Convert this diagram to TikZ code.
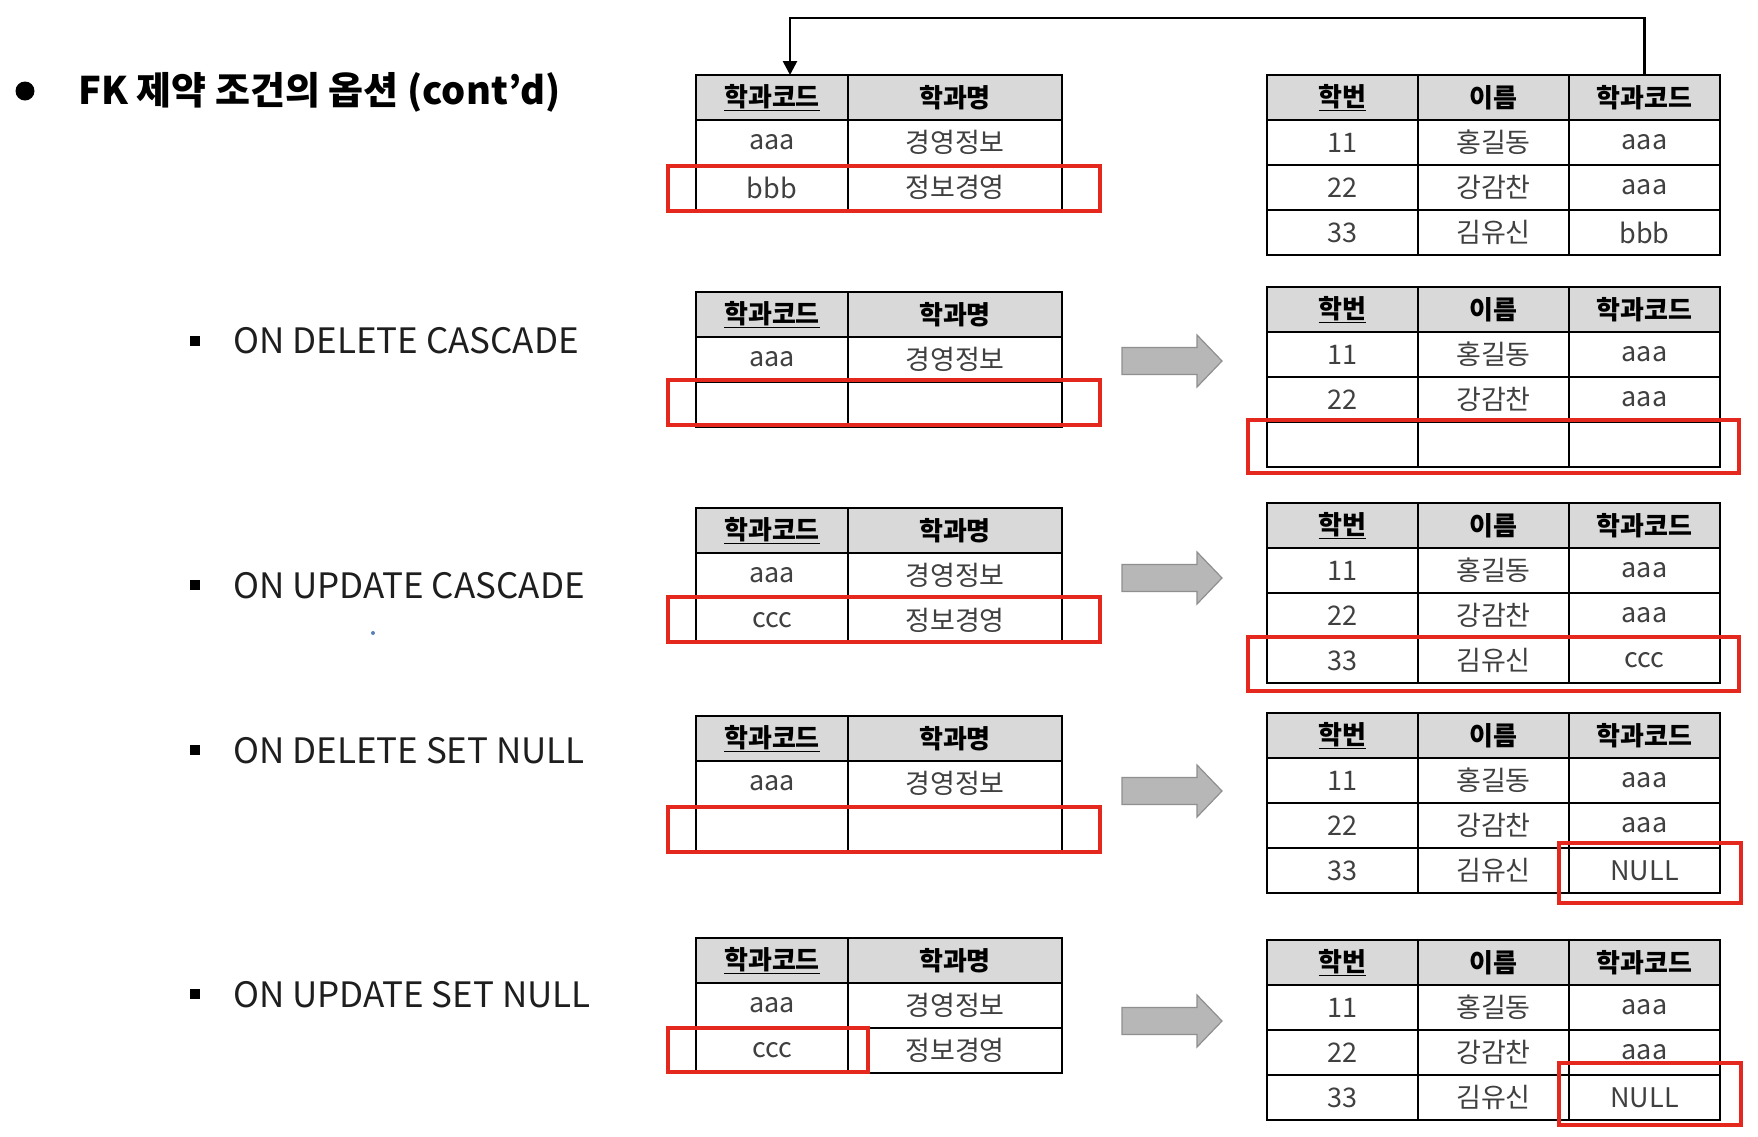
\documentclass[tikz,border=0pt]{standalone}
\usepackage{fontspec}
\setmainfont{Noto Sans CJK KR}
\usetikzlibrary{arrows.meta,calc}

\definecolor{hdrgray}{HTML}{D9D9D9}
\definecolor{boxred}{HTML}{E4281E}
\definecolor{bodytxt}{HTML}{404040}
\definecolor{itemtxt}{HTML}{1E1E1E}
\definecolor{arrfill}{HTML}{B7B7B7}
\definecolor{arredge}{HTML}{8F8F8F}
\definecolor{dotblue}{HTML}{5A7FB8}

\tikzset{
  cell/.style={draw=black, line width=1.8pt, inner sep=0pt, outer sep=0pt,
    anchor=north west, minimum height=45pt, text=bodytxt,
    font=\fontsize{27}{27}\selectfont},
  hcell/.style={cell, fill=hdrgray, text=black,
    font=\bfseries\fontsize{26}{26}\selectfont},
  hl/.style={draw=boxred, line width=3.2pt},
  blockarr/.style={fill=arrfill, draw=arredge, line width=1.2pt, line join=miter},
  fkline/.style={draw=black, line width=2.6pt,
    -{Triangle[width=14pt,length=14pt]}},
  optitem/.style={anchor=base west, text=itemtxt, inner sep=0pt,
    font=\fontsize{35}{35}\selectfont},
  sqbullet/.style={fill=black, minimum size=10pt, inner sep=0pt},
}

% department table: prefix, top y, second data row
\newcommand{\depttable}[4]{%
  \node[hcell, minimum width=152pt] (#1h1) at (696,#2) {\underline{학과코드}};
  \node[hcell, minimum width=214pt] (#1h2) at (#1h1.north east) {학과명};
  \node[cell, minimum width=152pt] (#1a1) at (#1h1.south west) {aaa};
  \node[cell, minimum width=214pt] (#1a2) at (#1a1.north east) {경영정보};
  \node[cell, minimum width=152pt] (#1b1) at (#1a1.south west) {#3};
  \node[cell, minimum width=214pt] (#1b2) at (#1b1.north east) {#4};
}

% student table: prefix, top y, third data row
\newcommand{\studtable}[5]{%
  \node[hcell, minimum width=151pt] (#1h1) at (1267,#2) {\underline{학번}};
  \node[hcell, minimum width=151pt] (#1h2) at (#1h1.north east) {이름};
  \node[hcell, minimum width=151pt] (#1h3) at (#1h2.north east) {학과코드};
  \node[cell, minimum width=151pt] (#1a1) at (#1h1.south west) {11};
  \node[cell, minimum width=151pt] (#1a2) at (#1a1.north east) {홍길동};
  \node[cell, minimum width=151pt] (#1a3) at (#1a2.north east) {aaa};
  \node[cell, minimum width=151pt] (#1b1) at (#1a1.south west) {22};
  \node[cell, minimum width=151pt] (#1b2) at (#1b1.north east) {강감찬};
  \node[cell, minimum width=151pt] (#1b3) at (#1b2.north east) {aaa};
  \node[cell, minimum width=151pt] (#1c1) at (#1b1.south west) {#3};
  \node[cell, minimum width=151pt] (#1c2) at (#1c1.north east) {#4};
  \node[cell, minimum width=151pt] (#1c3) at (#1c2.north east) {#5};
}

% grey block arrow centred on height #1
\newcommand{\blockarrow}[1]{%
  \draw[blockarr] (1122,#1-13.5) -- (1197,#1-13.5) -- (1197,#1-26)
    -- (1222,#1) -- (1197,#1+26) -- (1197,#1+13.5) -- (1122,#1+13.5) -- cycle;
}

\begin{document}
\begin{tikzpicture}[x=1pt, y=-1pt]
  \fill[white] (0,0) rectangle (1758,1136);
  \useasboundingbox (0,0) rectangle (1758,1136);

  % heading
  \fill[black] (25,91) circle (9.5);
  \node[anchor=base west, inner sep=0pt, font=\bfseries\fontsize{38}{38}\selectfont]
    (title) at (78,104) {FK 제약 조건의 옵션 (cont'd)};

  % option list
  \node[sqbullet] (b1) at (195,341) {};
  \node[optitem] (o1) at (233,353) {ON DELETE CASCADE};
  \node[sqbullet] (b2) at (195,585) {};
  \node[optitem] (o2) at (233,598) {ON UPDATE CASCADE};
  \node[sqbullet] (b3) at (195,750) {};
  \node[optitem] (o3) at (233,763) {ON DELETE SET NULL};
  \node[sqbullet] (b4) at (195,994) {};
  \node[optitem] (o4) at (233,1007) {ON UPDATE SET NULL};
  \fill[dotblue] (373,633) circle (2);

  % original tables
  \depttable{l1}{75}{bbb}{정보경영}
  \studtable{r1}{75}{33}{김유신}{bbb}
  \draw[fkline] (r1h3.north) -- ++(0,-57) -| ([xshift=18pt]l1h1.north);

  % ON DELETE CASCADE
  \depttable{l2}{292}{}{}
  \studtable{r2}{287}{}{}{}
  \blockarrow{361}

  % ON UPDATE CASCADE
  \depttable{l3}{508}{ccc}{정보경영}
  \studtable{r3}{503}{33}{김유신}{ccc}
  \blockarrow{578}

  % ON DELETE SET NULL
  \depttable{l4}{716}{}{}
  \studtable{r4}{713}{33}{김유신}{NULL}
  \blockarrow{791}

  % ON UPDATE SET NULL
  \depttable{l5}{938}{ccc}{정보경영}
  \studtable{r5}{940}{33}{김유신}{NULL}
  \blockarrow{1021}

  % highlighted rows
  \draw[hl] (668,166) rectangle (1100,211);
  \draw[hl] (668,380) rectangle (1100,425);
  \draw[hl] (1248,420) rectangle (1739,473);
  \draw[hl] (668,597) rectangle (1100,642);
  \draw[hl] (1248,637) rectangle (1739,691);
  \draw[hl] (668,807) rectangle (1100,852);
  \draw[hl] (1559,843) rectangle (1741,903);
  \draw[hl] (668,1028) rectangle (868,1072);
  \draw[hl] (1559,1063) rectangle (1741,1125);
\end{tikzpicture}
\end{document}
